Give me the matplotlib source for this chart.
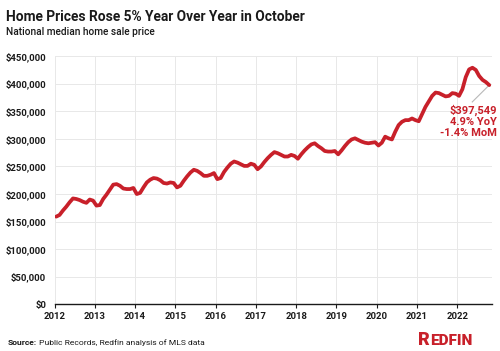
import matplotlib
matplotlib.use("Agg")
import matplotlib.pyplot as plt
import numpy as np

# Monthly national median home sale price, Jan 2012 - Oct 2022 (thousands of $)
prices_2012 = [159, 162, 170, 177, 185, 192, 191, 189, 186, 184, 190, 188]
prices_2013 = [179, 180, 191, 199, 208, 217, 218, 215, 210, 209, 209, 211]
prices_2014 = [200, 202, 212, 221, 226, 229, 228, 225, 220, 219, 221, 220]
prices_2015 = [212, 215, 224, 232, 239, 244, 242, 238, 233, 233, 235, 238]
prices_2016 = [227, 229, 240, 248, 255, 259, 257, 254, 251, 251, 255, 253]
prices_2017 = [245, 250, 258, 265, 271, 276, 274, 271, 268, 268, 271, 269]
prices_2018 = [264, 272, 279, 285, 290, 292, 287, 283, 278, 277, 277, 278]
prices_2019 = [272, 279, 287, 294, 299, 301, 298, 295, 293, 292, 293, 294]
prices_2020 = [288, 293, 304, 301, 299, 313, 325, 331, 334, 334, 337, 334]
prices_2021 = [332, 345, 358, 368, 378, 384, 383, 380, 377, 378, 383, 382]
prices_2022 = [378, 390, 412, 426, 429, 425, 414, 407, 403, 397.549]

years = [2012, 2013, 2014, 2015, 2016, 2017, 2018, 2019, 2020, 2021, 2022]
y_ticks = [0, 50000, 100000, 150000, 200000, 250000, 300000, 350000, 400000, 450000]
y_labels = ["$0", "$50,000", "$100,000", "$150,000", "$200,000", "$250,000",
            "$300,000", "$350,000", "$400,000", "$450,000"]
annotation_lines = ["$397,549", "4.9% YoY", "-1.4% MoM"]

prices = np.array(prices_2012 + prices_2013 + prices_2014 + prices_2015 + prices_2016 +
                  prices_2017 + prices_2018 + prices_2019 + prices_2020 + prices_2021 +
                  prices_2022) * 1000
months = np.arange(len(prices))
x = 2012 + (months + 0.5) / 12.0

RED = "#c8202a"
DARK = "#1a1a1a"
FONT = ["Roboto", "DejaVu Sans"]
plt.rcParams["font.family"] = FONT

fig = plt.figure(figsize=(5.0, 3.51), dpi=100)
ax = fig.add_axes([0.109, 0.133, 0.875, 0.707])

ax.plot(x, prices, color=RED, lw=2.7, solid_capstyle="round", solid_joinstyle="round", zorder=3)

ax.set_xlim(2012, 2022.86)
ax.set_ylim(0, 450000)
ax.set_xticks(years)
ax.set_xticklabels([str(y) for y in years], fontsize=6.8, fontweight="bold", color=DARK)
ax.set_yticks(y_ticks)
ax.set_yticklabels(y_labels, fontsize=6.8, fontweight="bold", color=DARK)
ax.grid(True, color="#e8e8e8", lw=0.7, zorder=0)
for s in ["top", "right", "left"]:
    ax.spines[s].set_visible(False)
ax.spines["bottom"].set_color(DARK)
ax.spines["bottom"].set_linewidth(1.0)
ax.tick_params(axis="y", length=0, pad=6)
ax.tick_params(axis="x", length=3, width=0.8, color=DARK, pad=2.5)

# annotation
last_x, last_y = x[-1], prices[-1]
ax.plot([last_x, 2022.37], [last_y, 367000], color="#b8b8b8", lw=0.8, zorder=2)
fig.text(0.994, 1 - 121.5 / 351, "\n".join(annotation_lines), ha="right", va="center",
         fontsize=8.0, fontweight="bold", color=RED, linespacing=1.1,
         multialignment="right")

fig.text(0.013, 0.952, "Home Prices Rose 5% Year Over Year in October", fontsize=9.9,
         fontweight="bold", color=DARK, ha="left", va="center")
fig.text(0.013, 0.908, "National median home sale price", fontsize=7.3,
         fontweight="medium", color=DARK, ha="left", va="center")

t = fig.text(0.016, 0.023, "Source:", fontsize=6.1, fontweight="bold", color=DARK,
             ha="left", va="center")
fig.canvas.draw()
bb = t.get_window_extent()
fig.text(bb.x1 / fig.bbox.width + 0.003, 0.023, "Public Records, Redfin analysis of MLS data",
         fontsize=6.1, color=DARK, ha="left", va="center")

logo_base = 1 - 345 / 351
r = fig.text(0.836, logo_base, "R", fontsize=13.0, fontweight="heavy", color=RED,
             ha="left", va="baseline")
fig.canvas.draw()
rb = r.get_window_extent()
fig.text(rb.x1 / fig.bbox.width, logo_base, "EDFIN", fontsize=11.0, fontweight="heavy",
         color=RED, ha="left", va="baseline")

fig.savefig("out.png", dpi=100)
